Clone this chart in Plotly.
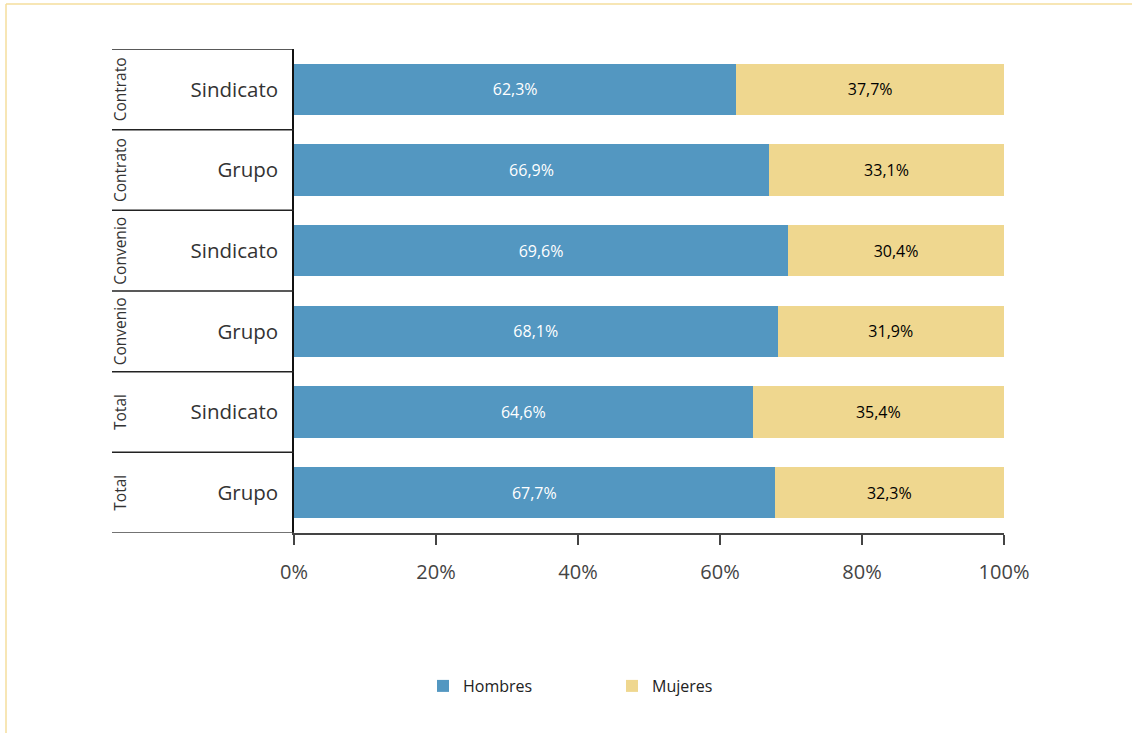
import plotly.graph_objects as go

# Data
grupos = ["Contrato", "Contrato", "Convenio", "Convenio", "Total", "Total"]
ambitos = ["Sindicato", "Grupo", "Sindicato", "Grupo", "Sindicato", "Grupo"]
hombres = [62.3, 66.9, 69.6, 68.1, 64.6, 67.7]
mujeres = [37.7, 33.1, 30.4, 31.9, 35.4, 32.3]
xticks = [0, 20, 40, 60, 80, 100]
xticklabels = ["0%", "20%", "40%", "60%", "80%", "100%"]

BLUE = "#5397C1"
YELLOW = "#EFD78F"
FRAME = "#F5DE9C"
FONT = "Open Sans"

def fmt(v):
    return f"{v:.1f}".replace(".", ",") + "%"

pos = list(range(len(ambitos)))

fig = go.Figure()
fig.add_trace(go.Bar(
    name="Hombres", y=pos, x=hombres, orientation="h",
    marker=dict(color=BLUE, line=dict(width=0)),
    text=[fmt(v) for v in hombres], textposition="inside",
    insidetextanchor="middle", textangle=0,
    insidetextfont=dict(color="white", size=16, family=FONT),
    width=0.64, hoverinfo="skip",
))
fig.add_trace(go.Bar(
    name="Mujeres", y=pos, x=mujeres, orientation="h",
    marker=dict(color=YELLOW, line=dict(width=0)),
    text=[fmt(v) for v in mujeres], textposition="inside",
    insidetextanchor="middle", textangle=0,
    insidetextfont=dict(color="#000", size=16, family=FONT),
    width=0.64, hoverinfo="skip",
))

L, R, T, B = 294, 128, 49, 200
W, H = 1132, 733
pw, ph = W - L - R, H - T - B

def px_x(p):
    return (p - L) / pw

def px_y(p):
    return (H - B - p) / ph

shapes = []
# left band dividers
for i in range(len(ambitos)):
    shapes.append(dict(type="line", xref="paper", yref="y",
                       x0=px_x(112), x1=0, y0=i - 0.5, y1=i - 0.5,
                       line=dict(color="#222", width=1.5)))
# bottom line extension
shapes.append(dict(type="line", xref="paper", yref="y",
                   x0=px_x(112), x1=0, y0=len(ambitos) - 0.5, y1=len(ambitos) - 0.5,
                   line=dict(color="#444", width=1.5)))
# frame
shapes.append(dict(type="line", xref="paper", yref="paper",
                   x0=px_x(6), x1=px_x(W), y0=px_y(4), y1=px_y(4),
                   line=dict(color=FRAME, width=1.5)))
shapes.append(dict(type="line", xref="paper", yref="paper",
                   x0=px_x(6), x1=px_x(6), y0=px_y(4), y1=px_y(H),
                   line=dict(color=FRAME, width=1.5)))

annotations = []
for i, g in enumerate(grupos):
    annotations.append(dict(xref="paper", yref="y", x=px_x(120), y=i,
                            text=g, textangle=-90, showarrow=False,
                            font=dict(size=15.5, color="#333", family=FONT),
                            xanchor="center", yanchor="middle"))

fig.update_layout(
    barmode="stack",
    width=W, height=H,
    margin=dict(l=L, r=R, t=T, b=B),
    paper_bgcolor="white", plot_bgcolor="white",
    font=dict(family=FONT, color="#333"),
    shapes=shapes, annotations=annotations,
    showlegend=True,
    legend=dict(orientation="h", x=px_x(423), y=px_y(686),
                xanchor="left", yanchor="middle",
                entrywidth=144, entrywidthmode="pixels",
                font=dict(size=16, color="#222", family=FONT),
                traceorder="normal"),
    bargap=0.36,
)
fig.update_xaxes(range=[0, 100], tickvals=xticks, ticktext=xticklabels,
                 showgrid=False, zeroline=False,
                 showline=True, linecolor="#444", linewidth=1.5,
                 ticks="outside", ticklen=10, tickcolor="#444", tickwidth=1.5,
                 tickfont=dict(size=20, color="#444", family=FONT),
                 ticklabelstandoff=10, fixedrange=True)
fig.update_yaxes(range=[len(ambitos) - 0.5, -0.5], tickvals=pos, ticktext=ambitos,
                 showgrid=False, zeroline=False,
                 showline=True, linecolor="#111", linewidth=1.5,
                 ticks="", tickfont=dict(size=20.5, color="#333", family=FONT),
                 ticklabelstandoff=10, fixedrange=True)

fig.write_html("out.html", config={"displayModeBar": False},
               post_script="document.body.style.margin='0';document.body.style.overflow='hidden';")
